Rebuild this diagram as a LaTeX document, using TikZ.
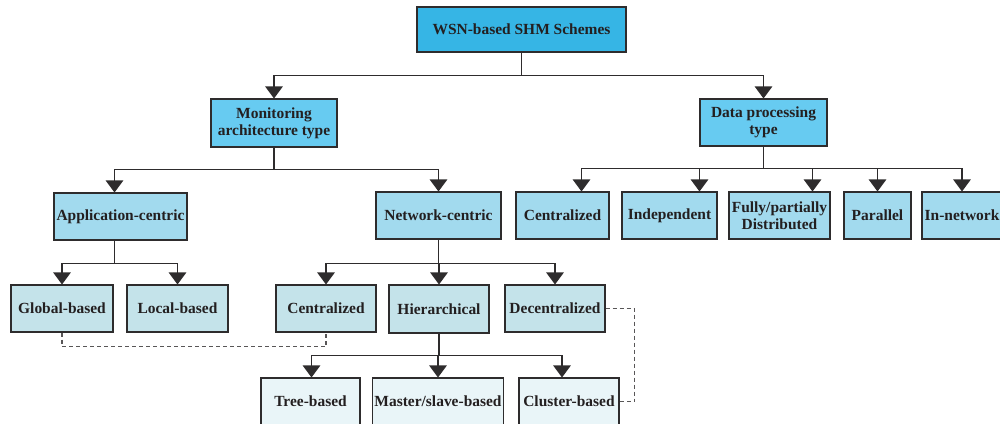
\documentclass[tikz,border=0pt]{standalone}
\usepackage{fontspec}
\setmainfont{Liberation Serif}
\usetikzlibrary{arrows.meta,calc,positioning}
\definecolor{lvla}{HTML}{36B5E5}
\definecolor{lvlb}{HTML}{67CBF1}
\definecolor{lvlc}{HTML}{A2DAEE}
\definecolor{lvld}{HTML}{C4E3EA}
\definecolor{lvle}{HTML}{E9F5F8}
\definecolor{linegray}{HTML}{2E2C2D}
\definecolor{textdark}{HTML}{231F20}

\begin{document}
\begin{tikzpicture}[x=0.2mm,y=-0.2mm,
    box/.style={draw=linegray,line width=0.6pt,text=textdark,align=center,inner sep=1pt,
      font=\fontsize{8.8}{9.6}\selectfont\bfseries},
    bw/.style={minimum width=#1*0.2mm},
    bh/.style={minimum height=#1*0.2mm},
    arr/.style={draw=linegray,line width=0.6pt,-{Triangle[width=3.5mm,length=2.4mm]}},
    dashline/.style={draw=linegray!80,line width=0.6pt,dash pattern=on 0.8mm off 0.6mm}]
    \clip (0,0) rectangle (1000,423);
    \node[box,fill=lvla,bw=209,bh=45] (root) at (521.5,29.5) {WSN-based SHM Schemes};
    \node[box,fill=lvlb,bw=126,bh=48] (mon) at (274,123) {Monitoring\\architecture type};
    \node[box,fill=lvlb,bw=127,bh=47] (dp) at (763.5,122.5) {Data processing\\type};
    \node[box,fill=lvlc,bw=133,bh=47] (app) at (120.5,216.5) {Application-centric};
    \node[box,fill=lvlc,bw=125,bh=47] (net) at (438.5,215.5) {Network-centric};
    \node[box,fill=lvlc,bw=93,bh=47] (pcen) at (562.5,215.5) {Centralized};
    \node[box,fill=lvlc,bw=95,bh=47] (pind) at (669.5,215.5) {Independent};
    \node[box,fill=lvlc,bw=101,bh=47] (pdis) at (779.5,215.5) {Fully/partially\\Distributed};
    \node[box,fill=lvlc,bw=67,bh=47] (ppar) at (877.5,215.5) {Parallel};
    \node[box,fill=lvlc,bw=80,bh=47] (pinn) at (962,215.5) {In-network};
    \node[box,fill=lvld,bw=102,bh=47] (glob) at (62,308.5) {Global-based};
    \node[box,fill=lvld,bw=101,bh=47] (loc) at (177.5,308.5) {Local-based};
    \node[box,fill=lvld,bw=100,bh=47] (ncen) at (326,308.5) {Centralized};
    \node[box,fill=lvld,bw=100,bh=48] (hier) at (439,309) {Hierarchical};
    \node[box,fill=lvld,bw=100,bh=47] (dec) at (555,308.5) {Decentralized};
    \node[box,fill=lvle,bw=99,bh=47] (tree) at (310.5,401.5) {Tree-based};
    \node[box,fill=lvle,bw=128,bh=47] (mast) at (438,401.5) {Master/slave-based};
    \node[box,fill=lvle,bw=100,bh=47] (clus) at (569,401.5) {Cluster-based};

    \draw[arr] (root.south) -- ++(0,23) -| (mon.north);
    \draw[arr] (root.south) -- ++(0,23) -| (dp.north);
    \draw[arr] (mon.south) -- ++(0,22) -| ($(app.north)+(-6,0)$);
    \draw[arr] (mon.south) -- ++(0,22) -| (net.north);
    \foreach \n/\dx in {pcen/19,pind/30,pdis/33,ppar/0,pinn/0}
      \draw[arr] (dp.south) -- ++(0,22) -| ($(\n.north)+(\dx,0)$);
    \draw[arr] ($(app.south)+(-6,0)$) -- ++(0,23) -| (glob.north);
    \draw[arr] ($(app.south)+(-6,0)$) -- ++(0,23) -| (loc.north);
    \foreach \n in {ncen,hier,dec}
      \draw[arr] (net.south) -- ++(0,24) -| (\n.north);
    \foreach \n/\dx in {tree/1,mast/0,clus/-7}
      \draw[arr] (hier.south) -- ++(0,22) -| ($(\n.north)+(\dx,0)$);
    \draw[dashline] (glob.south) -- ++(0,14) -| (ncen.south);
    \draw[dashline] (dec.east) -- ++(29,0) |- (clus.east);
\end{tikzpicture}
\end{document}
